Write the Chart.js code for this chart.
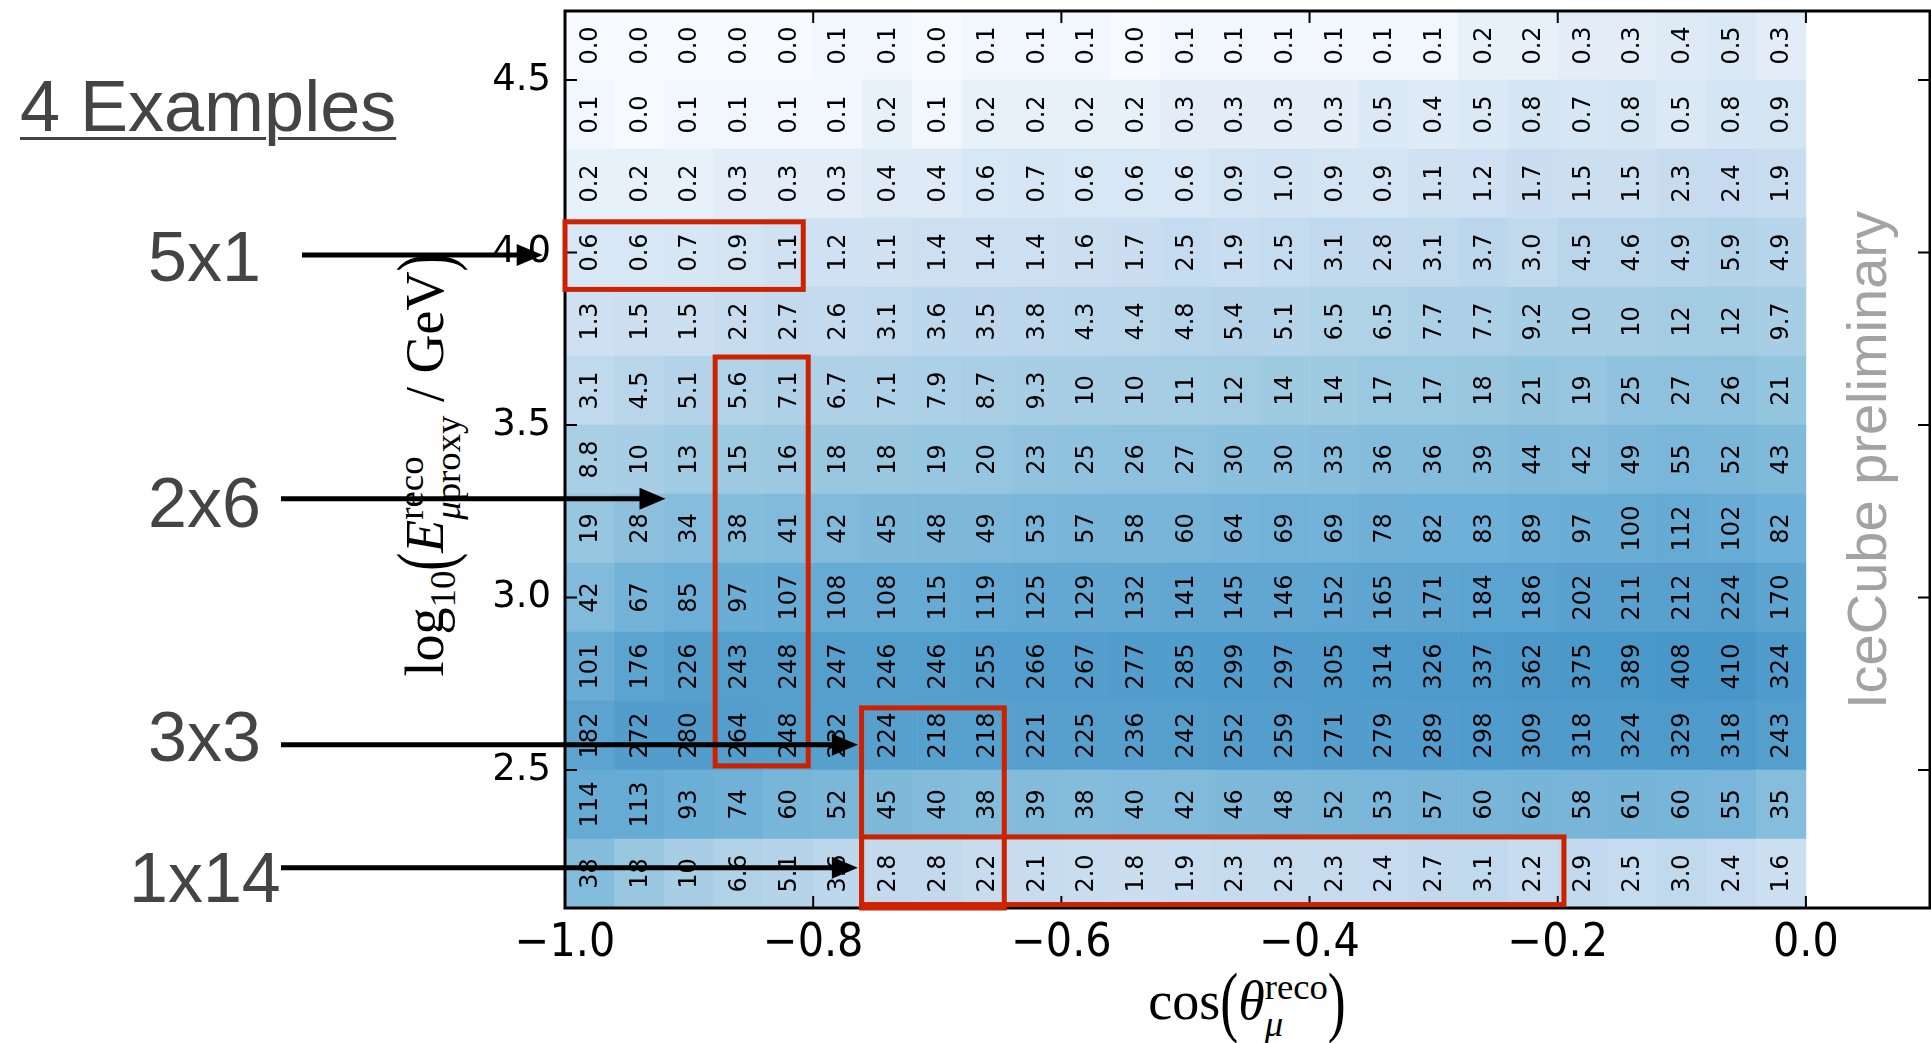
<!DOCTYPE html>
<html>
<head>
<meta charset="utf-8">
<script src="https://cdn.jsdelivr.net/npm/chart.js@4.4.1/dist/chart.umd.min.js"></script>
<style>
    body { margin: 0; background: #fff; }
    #wrap { position: relative; width: 1931px; height: 1043px; overflow: hidden; }
    #chart { position: absolute; left: 0; top: 0; z-index: 2; }
    .note { position: absolute; z-index: 1; font: 70px "Liberation Sans", Arial, sans-serif; color: #444; line-height: 1; white-space: nowrap; }
    .math { position: absolute; z-index: 1; font: 54px "Liberation Serif", serif; color: #000; white-space: nowrap; line-height: 1; transform: translate(-50%, -50%); }
    .ss { display: inline-block; font-size: 0.68em; line-height: 1.0em; vertical-align: -0.45em; text-align: left; }
    .ss span { display: block; }
    .big { display: inline-block; transform: scaleY(1.45); }
    #stamp { position: absolute; z-index: 1; left: 1866px; top: 460px; transform: translate(-50%, -50%) rotate(-90deg); font: 56px "Liberation Sans", Arial, sans-serif; color: #a3a3a3; white-space: nowrap; }
</style>
</head>
<body>
<div id="wrap">
    <div class="note" style="left:20px; top:70px; font-size:72px; text-decoration: underline; text-decoration-thickness: 3px; text-underline-offset: 6px;">4 Examples</div>
    <div class="note" style="left:148px; top:222px;">5x1</div>
    <div class="note" style="left:148px; top:468px;">2x6</div>
    <div class="note" style="left:148px; top:702px;">3x3</div>
    <div class="note" style="left:129px; top:843px;">1x14</div>

    <div class="math" style="left:430px; top:465px; transform: translate(-50%, -50%) rotate(-90deg);">log<sub style="font-size:0.68em">10</sub><span class="big">(</span><i>E</i><span class="ss"><span>reco</span><span><i>μ</i>proxy</span></span> / GeV<span class="big">)</span></div>
    <div class="math" style="left:1247px; top:1006px;">cos<span class="big">(</span><i>θ</i><span class="ss"><span>reco</span><span><i>μ</i></span></span><span class="big">)</span></div>

    <div id="stamp">IceCube preliminary</div>

    <canvas id="chart" width="1931" height="1043"></canvas>
</div>

<script>
// бины по cos(theta) и log10(E)
const cosEdges = [-1.00, -0.96, -0.92, -0.88, -0.84, -0.80, -0.76, -0.72, -0.68, -0.64, -0.60, -0.56, -0.52,
                  -0.48, -0.44, -0.40, -0.36, -0.32, -0.28, -0.24, -0.20, -0.16, -0.12, -0.08, -0.04, 0.00];
const logEEdges = [2.1, 2.3, 2.5, 2.7, 2.9, 3.1, 3.3, 3.5, 3.7, 3.9, 4.1, 4.3, 4.5, 4.7];

// число событий в каждой строке (снизу вверх)
const row2_1 = [38, 18, 10, 6.6, 5.1, 3.6, 2.8, 2.8, 2.2, 2.1, 2.0, 1.8, 1.9, 2.3, 2.3, 2.3, 2.4, 2.7, 3.1, 2.2, 2.9, 2.5, 3.0, 2.4, 1.6];
const row2_3 = [114, 113, 93, 74, 60, 52, 45, 40, 38, 39, 38, 40, 42, 46, 48, 52, 53, 57, 60, 62, 58, 61, 60, 55, 35];
const row2_5 = [182, 272, 280, 264, 248, 232, 224, 218, 218, 221, 225, 236, 242, 252, 259, 271, 279, 289, 298, 309, 318, 324, 329, 318, 243];
const row2_7 = [101, 176, 226, 243, 248, 247, 246, 246, 255, 266, 267, 277, 285, 299, 297, 305, 314, 326, 337, 362, 375, 389, 408, 410, 324];
const row2_9 = [42, 67, 85, 97, 107, 108, 108, 115, 119, 125, 129, 132, 141, 145, 146, 152, 165, 171, 184, 186, 202, 211, 212, 224, 170];
const row3_1 = [19, 28, 34, 38, 41, 42, 45, 48, 49, 53, 57, 58, 60, 64, 69, 69, 78, 82, 83, 89, 97, 100, 112, 102, 82];
const row3_3 = [8.8, 10, 13, 15, 16, 18, 18, 19, 20, 23, 25, 26, 27, 30, 30, 33, 36, 36, 39, 44, 42, 49, 55, 52, 43];
const row3_5 = [3.1, 4.5, 5.1, 5.6, 7.1, 6.7, 7.1, 7.9, 8.7, 9.3, 10, 10, 11, 12, 14, 14, 17, 17, 18, 21, 19, 25, 27, 26, 21];
const row3_7 = [1.3, 1.5, 1.5, 2.2, 2.7, 2.6, 3.1, 3.6, 3.5, 3.8, 4.3, 4.4, 4.8, 5.4, 5.1, 6.5, 6.5, 7.7, 7.7, 9.2, 10, 10, 12, 12, 9.7];
const row3_9 = [0.6, 0.6, 0.7, 0.9, 1.1, 1.2, 1.1, 1.4, 1.4, 1.4, 1.6, 1.7, 2.5, 1.9, 2.5, 3.1, 2.8, 3.1, 3.7, 3.0, 4.5, 4.6, 4.9, 5.9, 4.9];
const row4_1 = [0.2, 0.2, 0.2, 0.3, 0.3, 0.3, 0.4, 0.4, 0.6, 0.7, 0.6, 0.6, 0.6, 0.9, 1.0, 0.9, 0.9, 1.1, 1.2, 1.7, 1.5, 1.5, 2.3, 2.4, 1.9];
const row4_3 = [0.1, 0.0, 0.1, 0.1, 0.1, 0.1, 0.2, 0.1, 0.2, 0.2, 0.2, 0.2, 0.3, 0.3, 0.3, 0.3, 0.5, 0.4, 0.5, 0.8, 0.7, 0.8, 0.5, 0.8, 0.9];
const row4_5 = [0.0, 0.0, 0.0, 0.0, 0.0, 0.1, 0.1, 0.0, 0.1, 0.1, 0.1, 0.0, 0.1, 0.1, 0.1, 0.1, 0.1, 0.1, 0.2, 0.2, 0.3, 0.3, 0.4, 0.5, 0.3];

const rows = [row2_1, row2_3, row2_5, row2_7, row2_9, row3_1, row3_3, row3_5, row3_7, row3_9, row4_1, row4_3, row4_5];

// примеры: красные рамки (в координатах данных)
const exampleBoxes = [
    { x0: -1.000, x1: -0.808, y0: 3.893, y1: 4.089 },
    { x0: -0.879, x1: -0.804, y0: 2.512, y1: 3.697 },
    { x0: -0.761, x1: -0.646, y0: 2.100, y1: 2.680 },
    { x0: -0.761, x1: -0.195, y0: 2.110, y1: 2.306 }
];
// стрелки от подписей слева
const exampleArrows = [
    { fromPx: 302, toX: -1.018, y: 3.993 },
    { fromPx: 281, toX: -0.919, y: 3.286 },
    { fromPx: 281, toX: -0.764, y: 2.573 },
    { fromPx: 281, toX: -0.764, y: 2.217 }
];

// палитра Blues из matplotlib
const bluesStops = [[247,251,255],[222,235,247],[198,219,239],[158,202,225],[107,174,214],
                    [66,146,198],[33,113,181],[8,81,156],[8,48,107]];

function blues(t) {
    t = Math.max(0, Math.min(1, t));
    const p = t * 8;
    const i = Math.min(7, Math.floor(p));
    const f = p - i;
    const a = bluesStops[i], b = bluesStops[i + 1];
    const c = a.map((v, k) => Math.round(v + (b[k] - v) * f));
    return `rgb(${c[0]}, ${c[1]}, ${c[2]})`;
}

function cellColor(v) {
    if (v <= 0) return blues(0);
    return blues(0.19 + 0.158 * Math.log10(v));
}

function fmtCell(v) {
    return v < 10 ? v.toFixed(1) : String(Math.round(v));
}

function fmtTick(v) {
    const s = Math.abs(v).toFixed(1);
    return v < -1e-9 ? '\u2212' + s : s;
}

const mid = (arr, i) => (arr[i] + arr[i + 1]) / 2;

// подписи в ячейках
const cellText = {
    id: 'cellText',
    afterDatasetsDraw(chart) {
        const { ctx, scales: { x, y } } = chart;
        ctx.save();
        ctx.font = '24px "DejaVu Sans"';
        ctx.fillStyle = '#000';
        ctx.textAlign = 'center';
        ctx.textBaseline = 'middle';
        rows.forEach((row, r) => {
            const yc = y.getPixelForValue(mid(logEEdges, r));
            row.forEach((v, c) => {
                const xc = x.getPixelForValue(mid(cosEdges, c));
                ctx.save();
                ctx.translate(xc, yc);
                ctx.rotate(-Math.PI / 2);
                ctx.fillText(fmtCell(v), 0, 1);
                ctx.restore();
            });
        });
        ctx.restore();
    }
};

// рамка и засечки внутрь
const frame = {
    id: 'frame',
    afterDatasetsDraw(chart) {
        const { ctx, chartArea: a, scales: { x, y } } = chart;
        ctx.save();
        ctx.strokeStyle = '#000';
        ctx.lineWidth = 2;
        ctx.beginPath();
        x.ticks.forEach(t => {
            const px = x.getPixelForValue(t.value);
            ctx.moveTo(px, a.bottom); ctx.lineTo(px, a.bottom - 12);
            ctx.moveTo(px, a.top); ctx.lineTo(px, a.top + 12);
        });
        y.ticks.forEach(t => {
            const py = y.getPixelForValue(t.value);
            ctx.moveTo(a.left, py); ctx.lineTo(a.left + 12, py);
            ctx.moveTo(a.right, py); ctx.lineTo(a.right - 12, py);
        });
        ctx.stroke();
        ctx.lineWidth = 3;
        ctx.strokeRect(a.left, a.top, a.right - a.left, a.bottom - a.top);
        ctx.restore();
    }
};

// красные рамки и стрелки
const examples = {
    id: 'examples',
    afterDatasetsDraw(chart) {
        const { ctx, scales: { x, y } } = chart;
        ctx.save();
        ctx.strokeStyle = '#cc2200';
        ctx.lineWidth = 5;
        exampleBoxes.forEach(b => {
            const x0 = x.getPixelForValue(b.x0), x1 = x.getPixelForValue(b.x1);
            const y0 = y.getPixelForValue(b.y0), y1 = y.getPixelForValue(b.y1);
            ctx.strokeRect(x0, y1, x1 - x0, y0 - y1);
        });
        ctx.fillStyle = '#000';
        ctx.strokeStyle = '#000';
        ctx.lineWidth = 5;
        exampleArrows.forEach(ar => {
            const tip = x.getPixelForValue(ar.toX);
            const py = y.getPixelForValue(ar.y);
            ctx.beginPath();
            ctx.moveTo(ar.fromPx, py);
            ctx.lineTo(tip - 20, py);
            ctx.stroke();
            ctx.beginPath();
            ctx.moveTo(tip, py);
            ctx.lineTo(tip - 26, py - 11);
            ctx.lineTo(tip - 26, py + 11);
            ctx.closePath();
            ctx.fill();
        });
        ctx.restore();
    }
};

const datasets = rows.map((row, r) => ({
    label: 'logE ' + logEEdges[r],
    data: row.map((v, c) => ({ x: mid(cosEdges, c), y: [logEEdges[r], logEEdges[r + 1]] })),
    backgroundColor: row.map(cellColor),
    borderWidth: 0,
    grouped: false,
    categoryPercentage: 1,
    barPercentage: 1
}));

new Chart(document.getElementById('chart'), {
    type: 'bar',
    data: { datasets },
    options: {
        responsive: false,
        animation: false,
        events: [],
        layout: { padding: { top: 11, right: 1, left: 0, bottom: 0 } },
        plugins: {
            legend: { display: false },
            tooltip: { enabled: false }
        },
        scales: {
            x: {
                type: 'linear',
                min: -1.0,
                max: 0.1,
                offset: false,
                grid: { display: false, drawTicks: false },
                border: { display: false },
                ticks: {
                    stepSize: 0.2,
                    includeBounds: false,
                    autoSkip: false,
                    maxRotation: 0,
                    padding: 8,
                    color: '#000',
                    font: { family: 'DejaVu Sans Condensed', size: 46 },
                    callback: fmtTick
                },
                afterFit: s => { s.height = 135; s.paddingLeft = 0; s.paddingRight = 0; }
            },
            y: {
                type: 'linear',
                min: 2.1,
                max: 4.7,
                beginAtZero: false,
                grid: { display: false, drawTicks: false },
                border: { display: false },
                ticks: {
                    stepSize: 0.5,
                    includeBounds: false,
                    padding: 14,
                    color: '#000',
                    font: { family: 'DejaVu Sans', size: 37 },
                    callback: fmtTick
                },
                afterFit: s => { s.width = 565; s.paddingTop = 0; s.paddingBottom = 0; }
            }
        }
    },
    plugins: [cellText, frame, examples]
});
</script>
</body>
</html>
